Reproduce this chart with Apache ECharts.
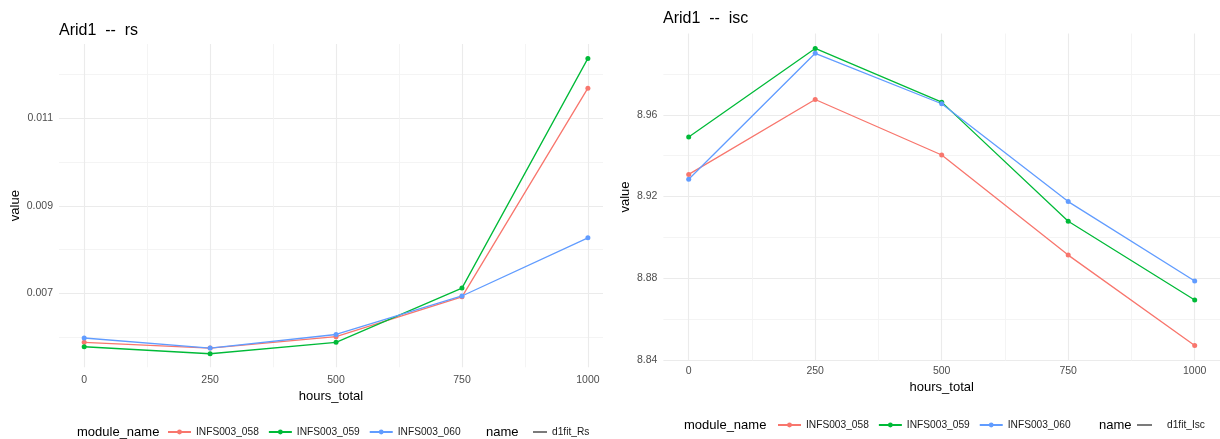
<!DOCTYPE html>
<html>
<head>
<meta charset="utf-8">
<script src="https://cdn.jsdelivr.net/npm/echarts@6/dist/echarts.min.js"></script>
<style>
html,body{margin:0;padding:0;background:#fff;}
#c{width:1220px;height:439px;}
</style>
</head>
<body>
<div id="c"></div>
<script>
// ---- data ----
const hours = [0, 250, 500, 750, 1000];
const modules = ['INFS003_058', 'INFS003_059', 'INFS003_060'];
const rs058 = [0.00588, 0.00575, 0.00601, 0.00692, 0.01169];
const rs059 = [0.00578, 0.00562, 0.00588, 0.00712, 0.01237];
const rs060 = [0.00598, 0.00575, 0.00606, 0.00694, 0.00827];
const isc058 = [8.9308, 8.9675, 8.9403, 8.8913, 8.8470];
const isc059 = [8.9491, 8.9925, 8.9662, 8.9079, 8.8693];
const isc060 = [8.9284, 8.9901, 8.9654, 8.9175, 8.8786];
const xTicks = [0, 250, 500, 750, 1000];
const xMinor = [125, 375, 625, 875];
const rsTicks = [0.007, 0.009, 0.011];
const rsMinor = [0.006, 0.008, 0.010, 0.012];
const iscTicks = [8.84, 8.88, 8.92, 8.96];
const iscMinor = [8.86, 8.90, 8.94, 8.98];
const lineNames = ['d1fit_Rs', 'd1fit_Isc'];

const colors = ['#F8766D', '#00BA38', '#619CFF'];
const FONT = "'Liberation Sans', Arial, sans-serif";

function pairs(ys) { return hours.map((h, i) => [h, ys[i]]); }

const axisLab = { color: '#4D4D4D', fontSize: 10.5, fontFamily: FONT };
const nameStyle = { color: '#000', fontSize: 13, fontFamily: FONT };

function majorAxis(grid, min, max, ticks, extra) {
  return Object.assign({
    type: 'value', gridIndex: grid, min: min, max: max,
    axisLine: { show: false },
    axisTick: { show: false, customValues: ticks },
    splitLine: { show: true, lineStyle: { color: '#EBEBEB', width: 1.1, type: 'solid' } },
    nameTextStyle: nameStyle
  }, extra);
}
function minorAxis(grid, min, max, ticks) {
  return {
    type: 'value', gridIndex: grid, min: min, max: max,
    axisLine: { show: false },
    axisTick: { show: false, customValues: ticks },
    axisLabel: { show: false, customValues: ticks },
    splitLine: { show: true, lineStyle: { color: '#F3F3F3', width: 0.9, type: 'solid' } }
  };
}

function dataSeries(name, ys, xi, yi, color) {
  return {
    name: name, type: 'line', xAxisIndex: xi, yAxisIndex: yi,
    data: pairs(ys), color: color,
    symbol: 'circle', symbolSize: 5, showSymbol: true,
    lineStyle: { width: 1.3, color: color },
    itemStyle: { color: color, borderWidth: 0 },
    emphasis: { disabled: true },
    z: 3, animation: false
  };
}

const legendText = { fontSize: 10.2, color: '#1A1A1A', fontFamily: FONT };
const titleStyle = { fontSize: 16, fontWeight: 'normal', color: '#000', fontFamily: FONT };

const option = {
  animation: false,
  backgroundColor: '#fff',
  textStyle: { fontFamily: FONT },
  title: [
    { text: 'Arid1  --  rs', left: 59, top: 23, padding: 0, textStyle: titleStyle },
    { text: 'Arid1  --  isc', left: 663, top: 11, padding: 0, textStyle: titleStyle }
  ],
  grid: [
    { left: 59, top: 44, width: 544, height: 323.3 },
    { left: 663.4, top: 33.5, width: 564, height: 327 }
  ],
  xAxis: [
    majorAxis(0, -50, 1030, xTicks, {
      name: 'hours_total', nameLocation: 'middle', nameGap: 20,
      axisLabel: Object.assign({ customValues: xTicks, margin: 7, formatter: v => String(v) }, axisLab) }),
    minorAxis(0, -50, 1030, xMinor),
    majorAxis(1, -50, 1050, xTicks, {
      name: 'hours_total', nameLocation: 'middle', nameGap: 19,
      axisLabel: Object.assign({ customValues: xTicks, margin: 5, formatter: v => String(v) }, axisLab) }),
    minorAxis(1, -50, 1050, xMinor)
  ],
  yAxis: [
    majorAxis(0, 0.00531, 0.0127, rsTicks, {
      name: 'value', nameLocation: 'middle', nameGap: 37, nameRotate: 90,
      axisLabel: Object.assign({ customValues: rsTicks, margin: 6, formatter: v => v.toFixed(3) }, axisLab) }),
    minorAxis(0, 0.00531, 0.0127, rsMinor),
    majorAxis(1, 8.8397, 8.9998, iscTicks, {
      name: 'value', nameLocation: 'middle', nameGap: 31, nameRotate: 90,
      axisLabel: Object.assign({ customValues: iscTicks, margin: 6, formatter: v => v.toFixed(2) }, axisLab) }),
    minorAxis(1, 8.8397, 8.9998, iscMinor)
  ],
  legend: [
    { data: modules, left: 167, top: 427, padding: 0, itemWidth: 23, itemHeight: 6, itemGap: 9, textStyle: legendText },
    { data: [lineNames[0]], left: 533, top: 427, padding: 0, itemWidth: 14, itemHeight: 1.3, icon: 'rect', textStyle: legendText },
    { data: modules, left: 777, top: 420, padding: 0, itemWidth: 23, itemHeight: 6, itemGap: 9, textStyle: legendText },
    { data: [lineNames[1]], left: 1137, top: 420, padding: 0, itemWidth: 15, itemHeight: 1.3, icon: 'rect',
      textStyle: Object.assign({ padding: [0, 0, 0, 10] }, legendText) }
  ],
  graphic: [
    { type: 'text', left: 77, top: 426, style: { text: 'module_name', fontSize: 13, fill: '#000', fontFamily: FONT } },
    { type: 'text', left: 486, top: 426, style: { text: 'name', fontSize: 13, fill: '#000', fontFamily: FONT } },
    { type: 'text', left: 684, top: 419, style: { text: 'module_name', fontSize: 13, fill: '#000', fontFamily: FONT } },
    { type: 'text', left: 1099, top: 419, style: { text: 'name', fontSize: 13, fill: '#000', fontFamily: FONT } }
  ],
  series: [
    dataSeries(modules[0], rs058, 0, 0, colors[0]),
    dataSeries(modules[1], rs059, 0, 0, colors[1]),
    dataSeries(modules[2], rs060, 0, 0, colors[2]),
    dataSeries(modules[0], isc058, 2, 2, colors[0]),
    dataSeries(modules[1], isc059, 2, 2, colors[1]),
    dataSeries(modules[2], isc060, 2, 2, colors[2]),
    { name: lineNames[0], type: 'line', xAxisIndex: 0, yAxisIndex: 0, data: [], symbol: 'none',
      color: '#333', itemStyle: { color: '#333' }, lineStyle: { color: '#333', width: 1.2 } },
    { name: lineNames[1], type: 'line', xAxisIndex: 2, yAxisIndex: 2, data: [], symbol: 'none',
      color: '#333', itemStyle: { color: '#333' }, lineStyle: { color: '#333', width: 1.2 } }
  ]
};

const chart = echarts.init(document.getElementById('c'), null, { renderer: 'canvas' });
chart.setOption(option);
</script>
</body>
</html>
